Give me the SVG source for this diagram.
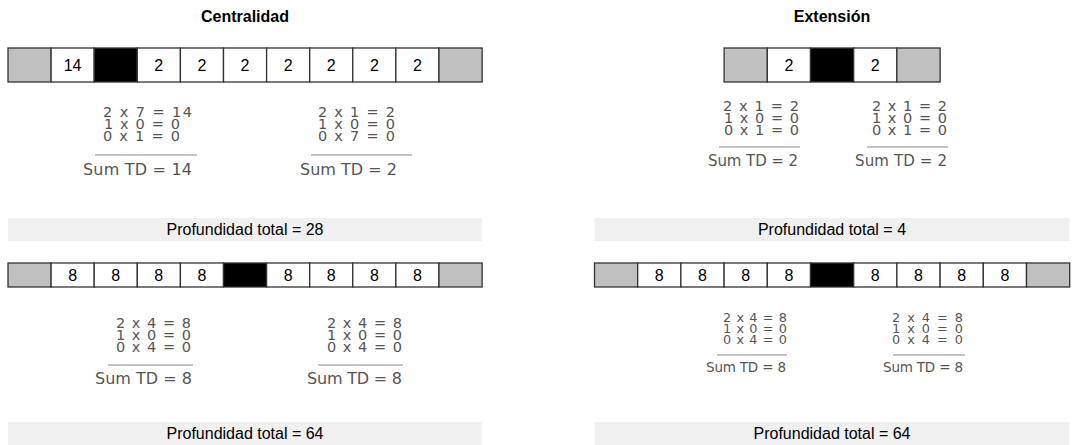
<svg xmlns="http://www.w3.org/2000/svg" width="1078" height="445" viewBox="0 0 1078 445">
<style>
.c{stroke:#333;stroke-width:1.3}
.g{fill:#c0c0c0}.w{fill:#fff}.b{fill:#000}
.num{font-family:"Liberation Sans",Arial,sans-serif;font-size:16px;fill:#000;text-anchor:middle}
.title{font-family:"Liberation Sans",Arial,sans-serif;font-size:16px;font-weight:bold;fill:#000;text-anchor:middle}
.bar{fill:#f0f0f0}
.tot{font-family:"Liberation Sans",Arial,sans-serif;font-size:16px;fill:#000;text-anchor:middle}
.eq{font-family:"DejaVu Sans",sans-serif;font-size:14.5px;fill:#555}
.eqs{font-family:"DejaVu Sans",sans-serif;font-size:12.8px;fill:#555}
.sum{font-family:"DejaVu Sans",sans-serif;font-size:16px;fill:#555}
.summ{font-family:"DejaVu Sans",sans-serif;font-size:15px;fill:#555}
.sums{font-family:"DejaVu Sans",sans-serif;font-size:13.5px;fill:#555}
.rule{stroke:#c4c4c4;stroke-width:2}
</style>
<rect width="1078" height="445" fill="#fff"/>

<g id="title-centralidad"><text class="title" x="245" y="22">Centralidad</text></g>
<g id="title-extension"><text class="title" x="832" y="22">Extensión</text></g>

<g id="row-top-left">
<rect class="c g" x="8" y="48" width="43.1" height="34"/>
<rect class="c w" x="51.1" y="48" width="43.1" height="34"/>
<rect class="c b" x="94.2" y="48" width="43.1" height="34"/>
<rect class="c w" x="137.3" y="48" width="43.1" height="34"/>
<rect class="c w" x="180.4" y="48" width="43.1" height="34"/>
<rect class="c w" x="223.5" y="48" width="43.1" height="34"/>
<rect class="c w" x="266.6" y="48" width="43.1" height="34"/>
<rect class="c w" x="309.7" y="48" width="43.1" height="34"/>
<rect class="c w" x="352.8" y="48" width="43.1" height="34"/>
<rect class="c w" x="395.9" y="48" width="43.1" height="34"/>
<rect class="c g" x="439" y="48" width="43.1" height="34"/>
<text class="num" x="72.6" y="71">14</text>
<text class="num" x="158.8" y="71">2</text>
<text class="num" x="202" y="71">2</text>
<text class="num" x="245" y="71">2</text>
<text class="num" x="288.2" y="71">2</text>
<text class="num" x="331.2" y="71">2</text>
<text class="num" x="374.4" y="71">2</text>
<text class="num" x="417.5" y="71">2</text>
</g>

<g id="row-top-right">
<rect class="c g" x="724.1" y="48" width="43.2" height="34"/>
<rect class="c w" x="767.3" y="48" width="43.2" height="34"/>
<rect class="c b" x="810.5" y="48" width="43.2" height="34"/>
<rect class="c w" x="853.7" y="48" width="43.2" height="34"/>
<rect class="c g" x="896.9" y="48" width="43.2" height="34"/>
<text class="num" x="788.9" y="71">2</text>
<text class="num" x="875.3" y="71">2</text>
</g>

<g id="eq-top-left-1">
<text class="eq" x="103" y="117" textLength="89" lengthAdjust="spacing">2 x 7 = 14</text>
<text class="eq" x="104" y="129" textLength="76" lengthAdjust="spacing">1 x 0 = 0</text>
<text class="eq" x="103" y="141" textLength="77" lengthAdjust="spacing">0 x 1 = 0</text>
<line class="rule" x1="95" y1="155" x2="197" y2="155"/>
<text class="sum" x="83" y="175" textLength="109" lengthAdjust="spacing">Sum TD = 14</text>
</g>
<g id="eq-top-left-2">
<text class="eq" x="318" y="117" textLength="77" lengthAdjust="spacing">2 x 1 = 2</text>
<text class="eq" x="318" y="129" textLength="77" lengthAdjust="spacing">1 x 0 = 0</text>
<text class="eq" x="318" y="141" textLength="77" lengthAdjust="spacing">0 x 7 = 0</text>
<line class="rule" x1="311" y1="155" x2="412" y2="155"/>
<text class="sum" x="300" y="175" textLength="97" lengthAdjust="spacing">Sum TD = 2</text>
</g>
<g id="eq-top-right-1">
<text class="eq" x="723" y="111" textLength="76" lengthAdjust="spacing">2 x 1 = 2</text>
<text class="eq" x="724" y="123" textLength="75" lengthAdjust="spacing">1 x 0 = 0</text>
<text class="eq" x="724" y="135" textLength="75" lengthAdjust="spacing">0 x 1 = 0</text>
<line class="rule" x1="719" y1="147" x2="800" y2="147"/>
<text class="summ" x="708" y="166" textLength="90" lengthAdjust="spacing">Sum TD = 2</text>
</g>
<g id="eq-top-right-2">
<text class="eq" x="872" y="111" textLength="75" lengthAdjust="spacing">2 x 1 = 2</text>
<text class="eq" x="872" y="123" textLength="75" lengthAdjust="spacing">1 x 0 = 0</text>
<text class="eq" x="872" y="135" textLength="75" lengthAdjust="spacing">0 x 1 = 0</text>
<line class="rule" x1="867" y1="147" x2="948" y2="147"/>
<text class="summ" x="855" y="166" textLength="92" lengthAdjust="spacing">Sum TD = 2</text>
</g>

<g id="total-top-left">
<rect class="bar" x="8" y="218" width="474" height="23"/>
<text class="tot" x="245" y="235">Profundidad total = 28</text>
</g>
<g id="total-top-right">
<rect class="bar" x="594.5" y="218" width="475" height="23"/>
<text class="tot" x="832" y="235">Profundidad total = 4</text>
</g>

<g id="row-bottom-left">
<rect class="c g" x="8" y="263" width="43.1" height="24"/>
<rect class="c w" x="51.1" y="263" width="43.1" height="24"/>
<rect class="c w" x="94.2" y="263" width="43.1" height="24"/>
<rect class="c w" x="137.3" y="263" width="43.1" height="24"/>
<rect class="c w" x="180.4" y="263" width="43.1" height="24"/>
<rect class="c b" x="223.5" y="263" width="43.1" height="24"/>
<rect class="c w" x="266.6" y="263" width="43.1" height="24"/>
<rect class="c w" x="309.7" y="263" width="43.1" height="24"/>
<rect class="c w" x="352.8" y="263" width="43.1" height="24"/>
<rect class="c w" x="395.9" y="263" width="43.1" height="24"/>
<rect class="c g" x="439" y="263" width="43.1" height="24"/>
<text class="num" x="72.6" y="281">8</text>
<text class="num" x="115.8" y="281">8</text>
<text class="num" x="158.8" y="281">8</text>
<text class="num" x="202" y="281">8</text>
<text class="num" x="288.2" y="281">8</text>
<text class="num" x="331.2" y="281">8</text>
<text class="num" x="374.4" y="281">8</text>
<text class="num" x="417.5" y="281">8</text>
</g>

<g id="row-bottom-right">
<rect class="c g" x="594.5" y="263" width="43.2" height="24"/>
<rect class="c w" x="637.7" y="263" width="43.2" height="24"/>
<rect class="c w" x="680.9" y="263" width="43.2" height="24"/>
<rect class="c w" x="724.1" y="263" width="43.2" height="24"/>
<rect class="c w" x="767.3" y="263" width="43.2" height="24"/>
<rect class="c b" x="810.5" y="263" width="43.2" height="24"/>
<rect class="c w" x="853.7" y="263" width="43.2" height="24"/>
<rect class="c w" x="896.9" y="263" width="43.2" height="24"/>
<rect class="c w" x="940.1" y="263" width="43.2" height="24"/>
<rect class="c w" x="983.3" y="263" width="43.2" height="24"/>
<rect class="c g" x="1026.5" y="263" width="43.2" height="24"/>
<text class="num" x="659.3" y="281">8</text>
<text class="num" x="702.5" y="281">8</text>
<text class="num" x="745.7" y="281">8</text>
<text class="num" x="788.9" y="281">8</text>
<text class="num" x="875.3" y="281">8</text>
<text class="num" x="918.5" y="281">8</text>
<text class="num" x="961.7" y="281">8</text>
<text class="num" x="1004.9" y="281">8</text>
</g>

<g id="eq-bottom-left-1">
<text class="eq" x="116" y="328" textLength="75" lengthAdjust="spacing">2 x 4 = 8</text>
<text class="eq" x="116" y="340" textLength="75" lengthAdjust="spacing">1 x 0 = 0</text>
<text class="eq" x="116" y="352" textLength="75" lengthAdjust="spacing">0 x 4 = 0</text>
<line class="rule" x1="108" y1="365" x2="193" y2="365"/>
<text class="sum" x="95" y="384" textLength="97" lengthAdjust="spacing">Sum TD = 8</text>
</g>
<g id="eq-bottom-left-2">
<text class="eq" x="327" y="328" textLength="75" lengthAdjust="spacing">2 x 4 = 8</text>
<text class="eq" x="327" y="340" textLength="75" lengthAdjust="spacing">1 x 0 = 0</text>
<text class="eq" x="327" y="352" textLength="75" lengthAdjust="spacing">0 x 4 = 0</text>
<line class="rule" x1="318" y1="365" x2="403" y2="365"/>
<text class="sum" x="307" y="384" textLength="95" lengthAdjust="spacing">Sum TD = 8</text>
</g>
<g id="eq-bottom-right-1">
<text class="eqs" x="723" y="322" textLength="64" lengthAdjust="spacing">2 x 4 = 8</text>
<text class="eqs" x="723" y="333" textLength="64" lengthAdjust="spacing">1 x 0 = 0</text>
<text class="eqs" x="723" y="344" textLength="64" lengthAdjust="spacing">0 x 4 = 0</text>
<line class="rule" x1="717" y1="355" x2="787" y2="355"/>
<text class="sums" x="706" y="372" textLength="80" lengthAdjust="spacing">Sum TD = 8</text>
</g>
<g id="eq-bottom-right-2">
<text class="eqs" x="892" y="322" textLength="71" lengthAdjust="spacing">2 x 4 = 8</text>
<text class="eqs" x="892" y="333" textLength="71" lengthAdjust="spacing">1 x 0 = 0</text>
<text class="eqs" x="892" y="344" textLength="71" lengthAdjust="spacing">0 x 4 = 0</text>
<line class="rule" x1="893" y1="355" x2="965" y2="355"/>
<text class="sums" x="883" y="372" textLength="80" lengthAdjust="spacing">Sum TD = 8</text>
</g>

<g id="total-bottom-left">
<rect class="bar" x="8" y="422" width="474" height="23"/>
<text class="tot" x="245" y="439">Profundidad total = 64</text>
</g>
<g id="total-bottom-right">
<rect class="bar" x="594.5" y="422" width="475" height="23"/>
<text class="tot" x="832" y="439">Profundidad total = 64</text>
</g>
</svg>
